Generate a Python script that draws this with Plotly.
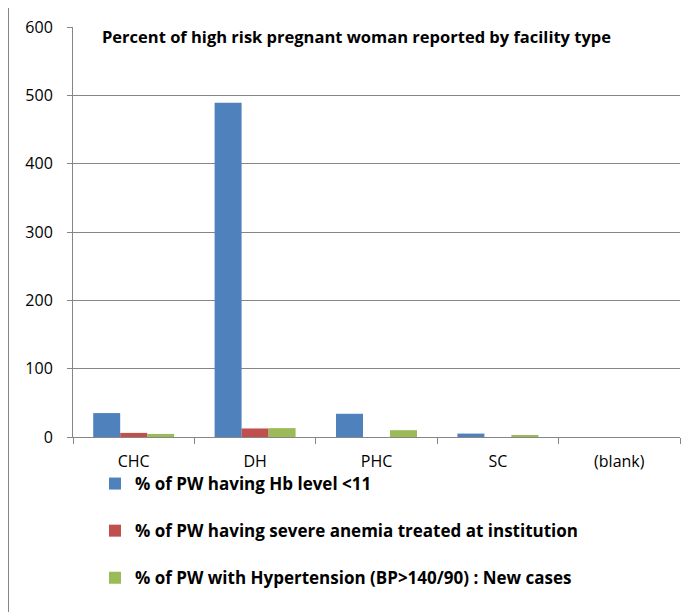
import plotly.graph_objects as go

categories = ["CHC", "DH", "PHC", "SC", "(blank)"]
series_names = [
    "% of PW having Hb level <11",
    "% of PW having severe anemia treated at institution",
    "% of PW with Hypertension (BP>140/90) : New cases",
]
hb_lt_11 = [35, 489, 34, 5, 0]
severe_anemia = [6, 12.5, 0, 0, 0]
hypertension = [4.5, 13, 10, 2.5, 0]
colors = ["#4F81BD", "#C0504D", "#9BBB59"]
y_ticks = [0, 100, 200, 300, 400, 500, 600]

# page has an 8px body margin; plot area in page coords: x 73..680, y 27..437
L, T, R, B = 65, 19, 692 - 672, 612 - 429
PW, PH = 692 - L - R, 612 - T - B

fig = go.Figure()
for i, (name, vals) in enumerate(zip(series_names, [hb_lt_11, severe_anemia, hypertension])):
    fig.add_trace(go.Bar(x=categories, y=vals, name=name, marker_color=colors[i],
                         marker_line_width=0, legendgroup=str(i)))

fig.update_layout(
    width=692, height=612,
    margin=dict(l=L, r=R, t=T, b=B, autoexpand=False),
    paper_bgcolor="white", plot_bgcolor="white",
    barmode="group", bargap=0.333, bargroupgap=0,
    font=dict(family="Open Sans, Liberation Sans, sans-serif", size=16, color="#000000"),
    showlegend=True,
    legend=dict(orientation="v", x=22 / PW, xanchor="left",
                y=-29 / PH, yanchor="top",
                font=dict(size=17, family="Open Sans, sans-serif", weight="bold"),
                tracegroupgap=22, bgcolor="rgba(0,0,0,0)"),
    annotations=[dict(text="<b>Percent of high risk pregnant woman reported by facility type</b>",
                      xref="paper", yref="paper", showarrow=False,
                      x=27 / PW, xanchor="left",
                      y=1 - 9 / PH, yanchor="middle",
                      font=dict(size=16.5, family="Open Sans, sans-serif"))],
)

fig.update_xaxes(showline=True, linecolor="#868686", linewidth=1,
                 ticks="outside", tickson="boundaries", ticklen=6, tickcolor="#868686",
                 showgrid=False, tickfont=dict(size=16), ticklabelstandoff=10)
fig.update_yaxes(range=[0, 600], tickvals=y_ticks, showline=True, linecolor="#868686",
                 linewidth=1, ticks="outside", ticklen=5, tickcolor="#868686",
                 showgrid=True, gridcolor="#868686", gridwidth=1, zeroline=False,
                 tickfont=dict(size=16), ticklabelstandoff=11)

fig.add_shape(type="line", xref="paper", yref="paper",
              x0=(0.5 - L) / PW, x1=(0.5 - L) / PW, y0=-B / PH, y1=1 + T / PH,
              line=dict(color="#868686", width=1))

fig.write_html("out.html")
